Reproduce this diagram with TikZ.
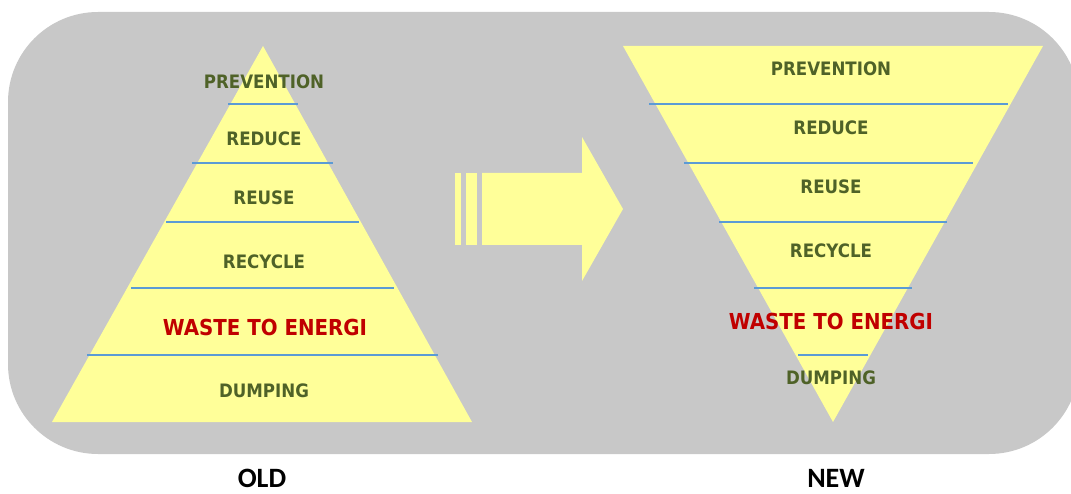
\documentclass[tikz,border=0pt]{standalone}
\usepackage{fontspec}
\newfontfamily\labfont[FakeStretch=0.9, BoldFont={DejaVu Sans Bold}]{DejaVu Sans}
\newfontfamily\capfont[BoldFont={Carlito Bold}]{Carlito}
\definecolor{bggrey}{HTML}{C8C8C8}
\definecolor{pyrfill}{HTML}{FFFF99}
\definecolor{sepblue}{HTML}{5B9BD5}
\definecolor{olivetxt}{HTML}{4F6228}
\definecolor{redtxt}{HTML}{C00000}
\tikzset{
  layer/.style={font=\labfont\bfseries\fontsize{18.5}{18.5}\selectfont, text=olivetxt, inner sep=0pt},
  hot/.style={font=\labfont\bfseries\fontsize{22}{22}\selectfont, text=redtxt, inner sep=0pt},
  sep/.style={draw=sepblue, line width=1.1pt},
  captext/.style={font=\capfont\bfseries\fontsize{28}{28}\selectfont, text=black, inner sep=0pt},
  pyr/.style={fill=pyrfill, draw=none}
}
\begin{document}
\begin{tikzpicture}[x=1pt,y=-1pt]
\useasboundingbox (0,0) rectangle (1071,494);
\fill[white] (0,0) rectangle (1071,494);
\begin{scope}
\clip (0,0) rectangle (1071,494);
\fill[bggrey, rounded corners=90pt] (8,12) rectangle (1079,454);
\end{scope}
% left pyramid
\coordinate (lA) at (263,46);
\coordinate (lL) at (52,422);
\coordinate (lR) at (472,422);
\fill[pyr] (lA) -- (lL) -- (lR) -- cycle;
\draw[sep] (228,104) -- (298,104);
\draw[sep] (192,163) -- (333,163);
\draw[sep] (166,222) -- (359,222);
\draw[sep] (131,288) -- (394,288);
\draw[sep] (87,355) -- (438,355);
\node[layer] (l1) at (264,82) {PREVENTION};
\node[layer] (l2) at (264,139) {REDUCE};
\node[layer] (l3) at (264,198) {REUSE};
\node[layer] (l4) at (264,262) {RECYCLE};
\node[hot]   (l5) at (265,327) {WASTE TO ENERGI};
\node[layer] (l6) at (264,391) {DUMPING};
% arrow
\fill[pyrfill] (455,173) rectangle (461,245);
\fill[pyrfill] (466,173) rectangle (477,245);
\fill[pyrfill] (482,173) -- (582,173) -- (582,137) -- (623,209) -- (582,281) -- (582,245) -- (482,245) -- cycle;
% right inverted pyramid
\coordinate (rL) at (623,46);
\coordinate (rR) at (1043,46);
\coordinate (rA) at (833,422);
\fill[pyr] (rL) -- (rR) -- (rA) -- cycle;
\draw[sep] (649,104) -- (1008,104);
\draw[sep] (684,163) -- (973,163);
\draw[sep] (719,222) -- (947,222);
\draw[sep] (754,288) -- (912,288);
\draw[sep] (798,355) -- (868,355);
\node[layer] (r1) at (831,69) {PREVENTION};
\node[layer] (r2) at (831,128) {REDUCE};
\node[layer] (r3) at (831,187) {REUSE};
\node[layer] (r4) at (831,251) {RECYCLE};
\node[hot]   (r5) at (831,321) {WASTE TO ENERGI};
\node[layer] (r6) at (831,378) {DUMPING};
% captions
\node[captext] (old) at (262,478) {OLD};
\node[captext] (new) at (836,478) {NEW};
\end{tikzpicture}
\end{document}
